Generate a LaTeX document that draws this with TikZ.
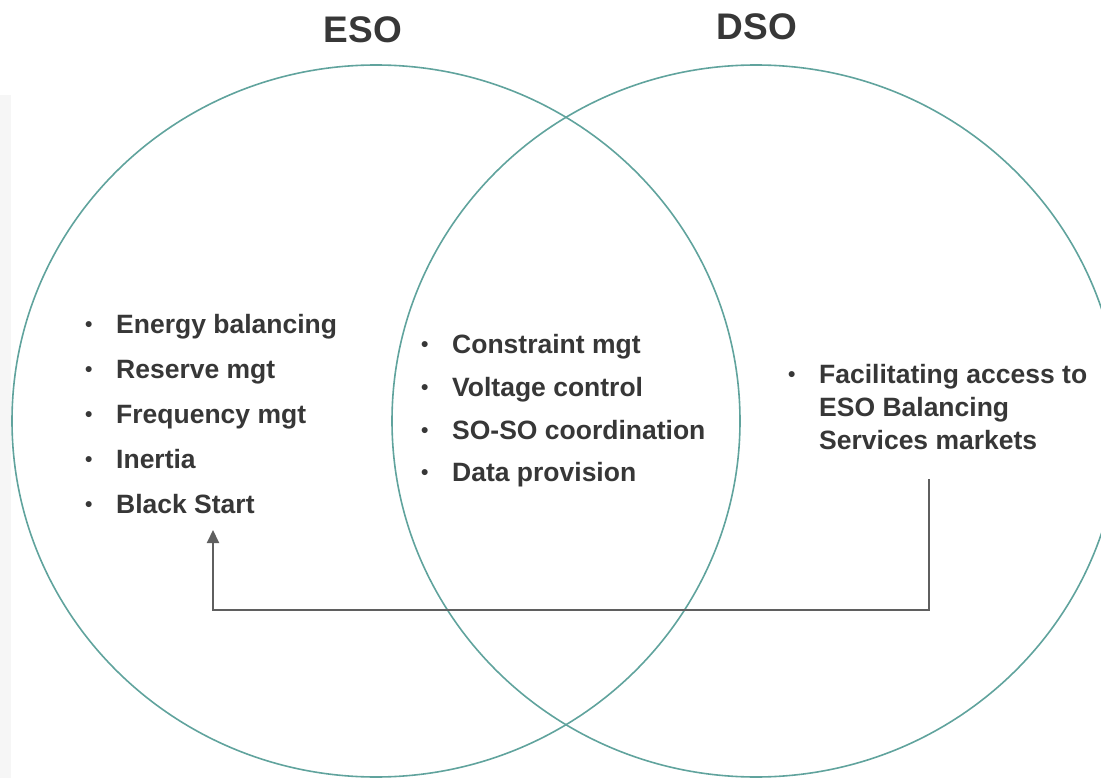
\documentclass[tikz,border=0pt]{standalone}
\usepackage{fontspec}
\setmainfont{Liberation Sans}
\usetikzlibrary{arrows.meta}

\definecolor{ringteal}{RGB}{96,163,157}
\definecolor{inktext}{RGB}{55,55,55}
\definecolor{flowgray}{RGB}{95,95,95}
\newcommand{\bul}{\makebox[31pt][l]{\raisebox{1.6pt}{\fontsize{21}{21}\selectfont\textbullet}}}

\begin{document}
\begin{tikzpicture}[x=1pt,y=-1pt,
  ring/.style={draw=ringteal,line width=1.6pt},
  title/.style={font=\fontsize{37}{37}\selectfont\bfseries,text=inktext,anchor=base},
  item/.style={font=\fontsize{26.5}{30}\selectfont\bfseries,text=inktext,anchor=base west,inner sep=0pt},
  flow/.style={draw=flowgray,line width=2pt,-{Triangle[length=13pt,width=12pt]}}]

  \useasboundingbox (0,0) rectangle (1101,778);
  \fill[gray!7] (0,95) rectangle (11,778);

  % the two rings
  \begin{scope}
    \clip (0,0) rectangle (1101,778);
    \draw[ring] (376,421) ellipse [x radius=364, y radius=356];
    \draw[ring] (756,421) ellipse [x radius=364, y radius=356];
  \end{scope}

  \node[title] (eso) at (363,43) {ESO};
  \node[title] (dso) at (757,40) {DSO};

  % ESO only
  \foreach \txt/\y [count=\i] in {Energy balancing/333, Reserve mgt/378,
      Frequency mgt/423, Inertia/468, Black Start/513}
    \node[item] (eso-\i) at (85,\y) {\bul\txt};

  % shared
  \foreach \txt/\y [count=\i] in {Constraint mgt/353, Voltage control/396,
      SO-SO coordination/439, Data provision/481}
    \node[item] (both-\i) at (421,\y) {\bul\txt};

  % DSO only
  \node[item] (dso-1) at (788,383) {\bul Facilitating access to};
  \node[item] (dso-2) at (819,416) {ESO Balancing};
  \node[item] (dso-3) at (819,449) {Services markets};

  \coordinate (src) at (929,479);
  \coordinate (dst) at (213,530);
  \draw[flow] (src) -- ++(0,131) -| (dst);
\end{tikzpicture}
\end{document}
